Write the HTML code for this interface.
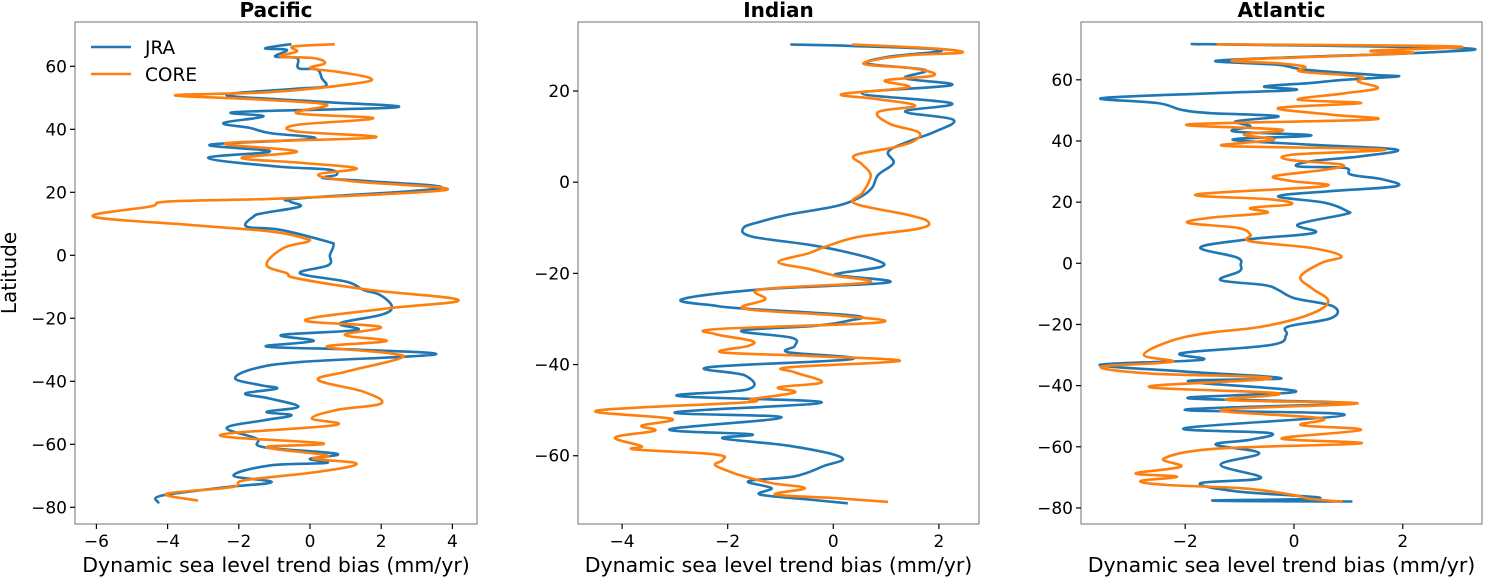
<!DOCTYPE html>
<html><head><meta charset="utf-8"><style>
body{margin:0;background:#fff;}
svg{display:block;font-family:"DejaVu Sans","Liberation Sans",sans-serif;}
</style></head><body>
<svg id="chart" width="1485" height="577" viewBox="0 0 1485 577" xmlns="http://www.w3.org/2000/svg"></svg>
<script>
// Pacific
const pacJraLat=[67,65.7,65.2,63.1,62.6,59.4,59,56.3,53.6,52.9,50.8,48.7,47,45.5,44.1,42,40.4,38.8,37,35.1,33,30.9,28.2,27.2,25.6,24.5,23.5,21.3,18.1,17.1,15.5,13.4,12.3,9.1,8.1,4.4,3.3,0.1,-3.1,-5.7,-8.4,-11,-12.6,-16.3,-18.9,-21.6,-23.7,-25.3,-27.2,-29,-30,-31.5,-33.8,-35.9,-39.1,-41.2,-42.3,-43.9,-45.5,-48.1,-49.7,-50.8,-52.4,-54.8,-58.2,-60.9,-63,-64.6,-65.9,-66.7,-69.9,-72,-73.6,-76.3,-78.4];
const pacJraVal=[-0.56,-1.26,-0.65,-0.98,-0.37,-0.32,0.19,0.33,0.42,-0.37,-2.34,0.37,2.43,-2.06,-1.31,-2.43,-1.68,-1.12,0.1,-2.81,-1.12,-2.86,-0.93,0.52,0.75,0.37,1.68,3.65,-0.28,-0.56,-0.28,-1.31,-1.59,-1.78,-0.84,0.47,0.66,0.56,0.52,-0.28,1.03,1.5,1.97,2.3,2.0,0.84,1.31,-0.8,0.1,-1.22,1.4,3.51,-0.19,-1.54,-2.1,-1.4,-0.93,-1.82,-1.12,-0.33,-1.22,-0.52,-1.31,-2.34,-1.5,-1.31,0.75,0,0.47,-1.12,-2.15,-1.08,-2.34,-4.17,-4.26];
const pacCoreLat=[67,66.3,64.7,63.1,62.6,61,59.4,58.3,56.3,54.6,51.8,50.8,49.4,47.8,45.1,43.5,41.4,39.3,37.4,35.6,33,30.9,29.3,27.6,25.6,23.5,20.8,18.1,17.1,15.5,12.3,9.7,7.6,5.5,4.4,2.3,-3,-5.7,-7.3,-11,-14.2,-16.9,-20.6,-22.7,-25.3,-27.2,-29,-31.1,-32.7,-36.9,-39.6,-43.3,-47,-49.1,-51.8,-53.9,-57.1,-59.7,-60.9,-63.5,-64.6,-66.2,-68.8,-71.4,-73.6,-75.7,-77.8];
const pacCoreVal=[0.66,-0.47,-0.37,-0.84,0.1,0.42,0,0.75,1.68,1.31,-1.12,-3.79,-1.31,0.47,-0.37,1.78,-0.37,-0.37,1.83,-2.34,-0.37,-1.92,-0.19,1.31,0.23,1.21,3.84,-0.65,-3.93,-4.49,-6.09,-3.46,-1.12,-0.19,-0.05,-0.75,-1.22,-0.65,-0.37,1.68,4.17,2.15,-0.14,1.97,0.98,2.15,0.47,2.25,2.53,1.03,0.23,1.5,2.0,0.75,0.05,0.7,-2.53,0.37,-1.22,0.47,0.1,1.31,0.19,-1.82,-2.2,-4.03,-3.18];
// Indian
const indJraLat=[30.2,29.9,29,27.5,26,24.6,22.8,21.3,19.5,17.3,15.5,13.7,11.1,8.9,6.7,4.2,1.6,-1.3,-3.5,-5.3,-7.1,-8.6,-10,-11.9,-13.7,-15.1,-17,-18.5,-19.9,-20.5,-22,-23.5,-25.7,-27.1,-27.8,-29.3,-30.4,-31.5,-32.6,-34.1,-35.9,-37.3,-38.8,-40.6,-42.4,-45.4,-46.9,-48.3,-50.5,-51.6,-54.2,-55.3,-56.2,-57.9,-60.4,-62.3,-64.5,-65.6,-67.1,-68.5,-69.6,-70.4];
const indJraVal=[-0.79,0.35,2.05,1.04,0.66,1.74,1.36,2.24,0.54,2.24,1.36,2.27,1.93,1.42,1.04,1.14,0.85,0.73,0.47,0.03,-0.85,-1.36,-1.7,-1.55,-0.47,0.16,0.79,0.92,0.16,0.13,1.04,-1.36,-2.87,-2.24,-1.61,0.41,0.28,-0.35,-1.74,-0.79,-0.73,-0.85,0.35,-2.37,-1.67,-1.61,-2.94,-0.22,-3.0,-0.98,-3.1,-1.55,-2.09,-0.79,0.16,-0.19,-0.73,-1.61,-1.17,-1.39,-0.47,0.25];
const indCoreLat=[30.2,29.3,28.4,27.8,26,24.9,23.4,22.3,20.8,19.3,18.3,16.8,15.4,12.8,11,9.2,7.7,5.9,4,1.9,-0.3,-2.5,-4.7,-7.2,-8.7,-10.2,-12,-14.2,-15.6,-17.5,-19,-20.5,-22,-23.5,-25.7,-27.8,-29.3,-30.8,-32.2,-33.3,-34.8,-35.9,-37.3,-38.1,-39.2,-40.6,-41.7,-43.9,-45,-46.1,-47.6,-48.3,-50.1,-51.9,-53.4,-54.5,-56,-57.9,-58.6,-59.7,-60.9,-62,-63.5,-64.5,-66,-67.1,-68.5,-69.3,-70.1];
const indCoreVal=[0.38,1.93,2.43,1.36,0.57,1.55,1.9,0.98,1.42,0.16,0.79,1.55,0.85,1.07,1.61,1.55,1.17,0.41,0.54,0.7,0.66,0.54,0.41,1.42,1.8,1.61,0.47,-0.16,-0.47,-1.04,-0.47,0.03,0.66,-1.36,-1.29,-1.67,0.16,0.85,-2.18,-2.24,-1.55,-1.61,-2.12,-0.47,1.26,-0.85,-0.73,-0.22,-1.04,-0.73,-1.55,-1.67,-4.48,-3.06,-3.63,-3.38,-4.13,-3.63,-3.76,-2.24,-2.09,-2.24,-1.96,-1.7,-1.17,-0.54,-1.1,0.03,1.01];
// Atlantic
const atlJraLat=[71.6,71.6,70.3,68.7,67.6,66.2,64.9,63.3,61.6,61.1,60,58.9,57.8,56.7,55.6,54,52.4,50.2,49.1,48.1,46.4,44.8,43.1,41.8,40.5,38.8,37.2,35,33.4,31.7,31.2,29,27.4,25.2,23.6,21.9,19.8,17.1,16,12.7,10,7.9,5.2,1.9,-0.6,-2.7,-5.5,-7.1,-8.7,-11.4,-14.1,-17.9,-20.7,-23.4,-26.7,-29.4,-31.6,-33.2,-35.4,-37.6,-38.6,-41.9,-44.1,-45.7,-47.9,-49.5,-53.9,-55.5,-57.7,-59.3,-62.1,-65.9,-70.2,-71.9,-74.6,-76.8,-77.6,-77.9];
const atlJraVal=[-1.73,-1.4,3.14,2.16,0.32,-1.44,-0.29,0.2,1.48,1.91,0.93,0.26,-0.55,0.03,-1.53,-3.54,-2.5,-2.07,-1.53,-0.29,-1.07,-0.8,-1.1,0.32,-1.13,0.26,1.88,1.23,0.32,0.07,0.93,1.05,1.64,1.88,0.69,-0.29,0.57,0.97,0.93,0.07,0.38,-0.8,-1.72,-1.05,-0.98,-1.01,-1.35,-0.55,-0.29,0.01,0.72,0.69,-0.11,-0.14,-0.42,-2.07,-1.7,-3.57,-2.01,-0.23,-1.95,0.04,-1.95,0.93,-2.01,0.93,-2.01,-0.45,-0.8,-1.44,-0.64,-1.35,-0.61,-1.72,-1.05,0.48,-1.5,1.05];
const atlCoreLat=[71.6,70.9,69.5,68.7,66.5,65.4,64.3,62.7,61.1,59.4,57.3,55.6,53.5,52.4,50.8,48.6,47,45.4,43.7,42.1,40.5,39.4,38.3,37.2,35.6,33.9,32.3,30.7,28.5,26.9,25.2,22.5,20.9,19.3,18.1,16.5,14.9,13.2,11.6,9.4,7.2,5,2.3,0.1,-4.4,-8.2,-12.5,-16.9,-20.7,-22.9,-25.6,-30,-32.2,-33.8,-36,-37.6,-40.4,-42.5,-44.7,-45.8,-48,-50.7,-52.9,-54.5,-57.3,-58.9,-60.6,-63.8,-66.5,-68.7,-69.8,-71.2,-72.5,-73.6,-75.8,-76.9,-78];
const atlCoreVal=[-1.4,3.01,1.42,2.1,-1.04,-0.29,0.2,0.13,1.21,1.18,1.54,0.93,0.07,1.23,-0.29,0.69,1.42,-1.95,-0.23,-0.92,-0.36,-0.92,-1.16,1.66,0.01,-0.11,0.87,0.62,-0.36,-0.05,0.56,-1.8,-0.42,-0.05,-0.8,-0.5,-1.53,-1.95,-1.04,-0.8,-0.8,0.32,0.87,0.5,0.12,0.33,0.63,0.26,-0.59,-1.63,-2.3,-2.76,-2.24,-3.54,-2.67,-0.42,-2.67,-0.29,-1.22,1.17,-1.35,0.5,0.13,1.23,-0.23,1.23,-1.41,-2.39,-2.08,-2.91,-2.15,-2.82,-2.33,-0.92,0.01,0.26,0.87];
// ticks
const pacXTicks=[-6,-4,-2,0,2,4], pacYTicks=[60,40,20,0,-20,-40,-60,-80];
const indXTicks=[-4,-2,0,2], indYTicks=[20,0,-20,-40,-60];
const atlXTicks=[-2,0,2], atlYTicks=[60,40,20,0,-20,-40,-60,-80];
const titles=["Pacific","Indian","Atlantic"];

const NS="http://www.w3.org/2000/svg";
const svg=document.getElementById('chart');
function mk(tag,attrs,parent){const e=document.createElementNS(NS,tag);for(const k in attrs)e.setAttribute(k,attrs[k]);(parent||svg).appendChild(e);return e;}

const panels=[
 {name:'pacific',l:75,r:477,t:22,b:524,x0:310,xs:35.6,y0:255.3,ys:3.15,xt:pacXTicks,yt:pacYTicks,jl:pacJraLat,jv:pacJraVal,cl:pacCoreLat,cv:pacCoreVal},
 {name:'indian',l:578,r:979,t:22,b:524,x0:833.3,xs:52.8,y0:182.2,ys:4.559,xt:indXTicks,yt:indYTicks,jl:indJraLat,jv:indJraVal,cl:indCoreLat,cv:indCoreVal},
 {name:'atlantic',l:1081,r:1482,t:22,b:524,x0:1294,xs:54.4,y0:263.3,ys:3.058,xt:atlXTicks,yt:atlYTicks,jl:atlJraLat,jv:atlJraVal,cl:atlCoreLat,cv:atlCoreVal}
];
function smoothPath(pts){
  let d='M'+pts[0][0].toFixed(1)+','+pts[0][1].toFixed(1);
  for(let k=0;k<pts.length-1;k++){
    const p0=pts[Math.max(0,k-1)],p1=pts[k],p2=pts[k+1],p3=pts[Math.min(pts.length-1,k+2)];
    const t=0.18;
    const c1=[p1[0]+(p2[0]-p0[0])*t,p1[1]+(p2[1]-p0[1])*t];
    const c2=[p2[0]-(p3[0]-p1[0])*t,p2[1]-(p3[1]-p1[1])*t];
    d+='C'+c1[0].toFixed(1)+','+c1[1].toFixed(1)+' '+c2[0].toFixed(1)+','+c2[1].toFixed(1)+' '+p2[0].toFixed(1)+','+p2[1].toFixed(1);
  }
  return d;
}
panels.forEach((p,i)=>{
  const g=mk('g',{});
  
  
  const X=v=>p.x0+v*p.xs, Y=v=>p.y0-v*p.ys;
  function series(lat,val,color,nm){
    const pts=lat.map((la,k)=>[X(val[k]),Y(la)]);
    const path=mk('path',{d:smoothPath(pts),fill:'none',stroke:color,'stroke-width':2.6,'stroke-linejoin':'round','stroke-linecap':'square'},g);
    
    
  }
  series(p.jl,p.jv,'#1f77b4','jra');
  series(p.cl,p.cv,'#ff7f0e','core');
  const fr=mk('rect',{x:p.l,y:p.t,width:p.r-p.l,height:p.b-p.t,fill:'none',stroke:'#888','stroke-width':1.2},g);
  
  
  p.xt.forEach(v=>{
    mk('line',{x1:X(v),x2:X(v),y1:p.b,y2:p.b+5,stroke:'#000','stroke-width':1.2},g);
    const t=mk('text',{x:X(v),y:p.b+23,'text-anchor':'middle','font-size':17},g);
    t.textContent=(v<0?'\u2212'+(-v):v);
    
    
  });
  p.yt.forEach(v=>{
    mk('line',{x1:p.l-5,x2:p.l,y1:Y(v),y2:Y(v),stroke:'#000','stroke-width':1.2},g);
    const t=mk('text',{x:p.l-8,y:Y(v)+6,'text-anchor':'end','font-size':17},g);
    t.textContent=(v<0?'\u2212'+(-v):v);
    
    
  });
  const tt=mk('text',{x:(p.l+p.r)/2,y:17,'text-anchor':'middle','font-size':20,'font-weight':'bold'},g);
  tt.textContent=titles[i];
  
  
  const xl=mk('text',{x:(p.l+p.r)/2,y:572,'text-anchor':'middle','font-size':20.5},g);
  xl.textContent='Dynamic sea level trend bias (mm/yr)';
  
  
});
const yl=mk('text',{x:16,y:273,'text-anchor':'middle','font-size':20,transform:'rotate(-90 16 273)'});
yl.textContent='Latitude';


// legend
const lg=mk('g',{});


[['JRA','#1f77b4',47],['CORE','#ff7f0e',74]].forEach(e=>{
  mk('line',{x1:91,x2:131,y1:e[2],y2:e[2],stroke:e[1],'stroke-width':2.6},lg);
  const t=mk('text',{x:145,y:e[2]+7,'font-size':18.5},lg);
  t.textContent=e[0];
  
  
});
</script>
</body></html>
